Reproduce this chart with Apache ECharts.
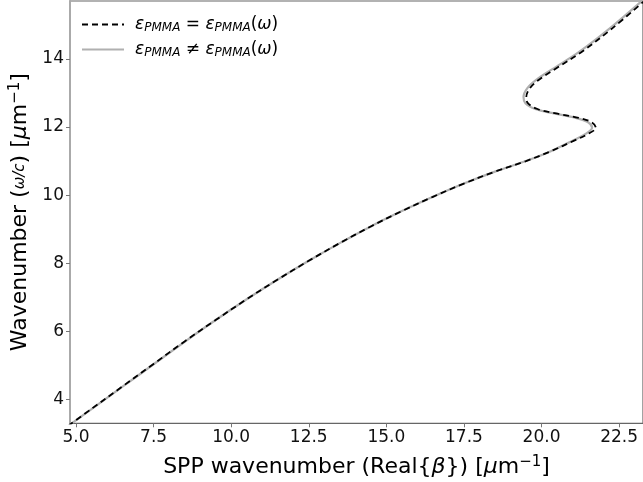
<!DOCTYPE html>
<html><head><meta charset="utf-8">
<script src="https://cdn.jsdelivr.net/npm/echarts@6/dist/echarts.min.js"></script>
<style>html,body{margin:0;padding:0;background:#fff}#c{width:643px;height:482px}</style>
</head><body><div id="c"></div>
<script>
// Series: epsilon_PMMA = epsilon_PMMA(omega)  (dashed black)
const eqX = [4.75, 5.5, 6.5, 7.5, 8.5, 9.5, 10.5, 11.5, 12.5, 13.5, 14.5, 15.5, 16.5, 17.5, 18.5, 19.5, 20.3, 21.05, 21.5, 21.75, 21.62, 21.2, 20.47, 19.87, 19.56, 19.51, 19.63, 19.93, 20.43, 21.28, 22.28, 23.43];
const eqY = [3.22, 3.72, 4.38, 5.04, 5.70, 6.33, 6.94, 7.52, 8.07, 8.59, 9.08, 9.53, 9.95, 10.34, 10.69, 11.00, 11.29, 11.60, 11.80, 11.98, 12.14, 12.27, 12.40, 12.53, 12.70, 12.88, 13.15, 13.40, 13.70, 14.20, 14.90, 15.80];
// Series: epsilon_PMMA != epsilon_PMMA(omega)  (solid grey)
const neqX = [4.75, 5.5, 6.5, 7.5, 8.5, 9.5, 10.5, 11.5, 12.5, 13.5, 14.5, 15.5, 16.5, 17.5, 18.5, 19.5, 20.3, 21.0, 21.42, 21.63, 21.5, 21.1, 20.4, 19.8, 19.48, 19.42, 19.55, 19.85, 20.35, 21.2, 22.2, 23.35];
const neqY = [3.22, 3.71, 4.37, 5.03, 5.69, 6.33, 6.94, 7.52, 8.07, 8.59, 9.08, 9.53, 9.95, 10.34, 10.69, 11.00, 11.29, 11.60, 11.80, 11.98, 12.14, 12.27, 12.40, 12.53, 12.70, 12.88, 13.15, 13.40, 13.70, 14.20, 14.90, 15.80];
const xTicks = [5, 7.5, 10, 12.5, 15, 17.5, 20, 22.5];
const yTicks = [4, 6, 8, 10, 12, 14];
const seriesNames = ['eq', 'neq'];

const pairs = (xs, ys) => xs.map((x, i) => [x, ys[i]]);
const FONT = 'DejaVu Sans';
const chart = echarts.init(document.getElementById('c'), null, {renderer: 'canvas'});
chart.setOption({
  animation: false,
  grid: {left: 70, top: 1, right: 0, bottom: 58.7, show: true, borderColor: '#666', borderWidth: 1.2, containLabel: false, outerBoundsMode: 'none'},
  legend: {
    orient: 'vertical', left: 76, top: 10, itemWidth: 42, itemHeight: 14, itemGap: 6,
    data: seriesNames,
    itemStyle: {opacity: 0},
    formatter: n => n === 'eq'
      ? '{e|ε}{s|PMMA}{t| = }{e|ε}{s|PMMA}{t|(}{e|ω}{t|)}'
      : '{e|ε}{s|PMMA}{t| ≠ }{e|ε}{s|PMMA}{t|(}{e|ω}{t|)}',
    textStyle: {
      fontFamily: FONT, fontSize: 17, color: '#000', padding: [0, 0, 0, 6],
      rich: {
        e: {fontFamily: FONT, fontSize: 17, fontStyle: 'italic', color: '#000', lineHeight: 22},
        s: {fontFamily: FONT, fontSize: 12, fontStyle: 'italic', color: '#000', padding: [7, 0, 0, 0], lineHeight: 22},
        t: {fontFamily: FONT, fontSize: 17, color: '#000', lineHeight: 22}
      }
    }
  },
  xAxis: {
    type: 'value', min: 4.807, max: 23.27,
    name: 'SPP wavenumber (Real{{i|β}}) [{i|μ}m{sup|−1}]',
    nameLocation: 'middle', nameGap: 31,
    nameTextStyle: {fontFamily: FONT, fontSize: 22, color: '#000',
      rich: {i: {fontFamily: FONT, fontSize: 22, fontStyle: 'italic', color: '#000'}, sup: {fontFamily: FONT, fontSize: 15, color: '#000', padding: [0, 0, 10, 0]}}},
    splitLine: {show: false},
    axisLine: {show: true, onZero: false, lineStyle: {color: '#666', width: 1.2}},
    axisTick: {show: true, length: 4, lineStyle: {color: '#777'}, customValues: xTicks},
    axisLabel: {fontFamily: FONT, fontSize: 17, color: '#111', margin: 6, customValues: xTicks, formatter: v => v.toFixed(1)}
  },
  yAxis: {
    type: 'value', min: 3.295, max: 15.704,
    name: 'Wavenumber ({f|ω/c}) [{i|μ}m{sup|−1}]',
    nameLocation: 'middle', nameGap: 36, nameRotate: 90,
    nameTextStyle: {fontFamily: FONT, fontSize: 22, color: '#000',
      rich: {f: {fontFamily: FONT, fontSize: 15, fontStyle: 'italic', color: '#000'}, i: {fontFamily: FONT, fontSize: 22, fontStyle: 'italic', color: '#000'}, sup: {fontFamily: FONT, fontSize: 15, color: '#000', padding: [0, 0, 10, 0]}}},
    splitLine: {show: false},
    axisLine: {show: true, onZero: false, lineStyle: {color: '#aaa', width: 2}},
    axisTick: {show: true, length: 4, lineStyle: {color: '#777'}, customValues: yTicks},
    axisLabel: {fontFamily: FONT, fontSize: 17, color: '#111', margin: 6, customValues: yTicks, formatter: v => String(v)}
  },
  series: [
    {name: 'neq', type: 'line', data: pairs(neqX, neqY), showSymbol: false, symbol: 'none', smooth: 0.35, clip: true,
     lineStyle: {color: '#b0b0b0', width: 2.2, type: 'solid'}, itemStyle: {color: '#b0b0b0'}, z: 2},
    {name: 'eq', type: 'line', data: pairs(eqX, eqY), showSymbol: false, symbol: 'none', smooth: 0.35, clip: true,
     lineStyle: {color: '#000', width: 1.8, type: [6, 4]}, itemStyle: {color: '#000'}, z: 3}
  ]
});
</script></body></html>
